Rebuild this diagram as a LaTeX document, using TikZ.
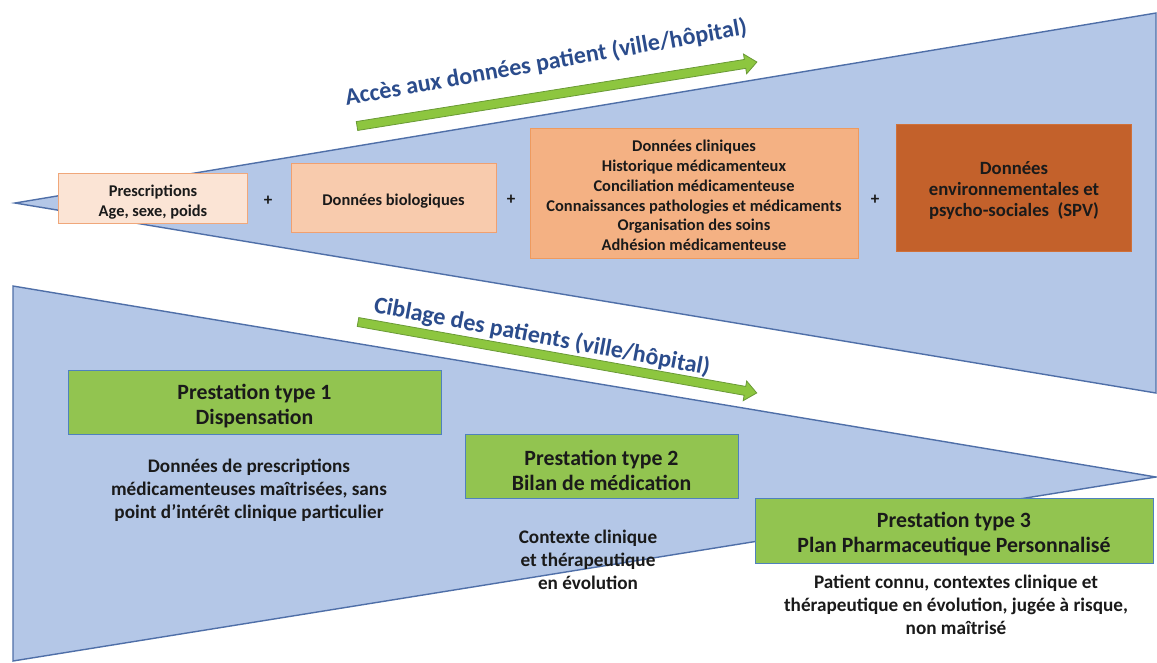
\documentclass[tikz,border=0pt]{standalone}
\usepackage{fontspec}
\setmainfont{Carlito}
\definecolor{triblue}{HTML}{B4C7E7}
\definecolor{triedge}{HTML}{4F6FA8}
\definecolor{arrowgreen}{HTML}{8DC63F}
\definecolor{arrowedge}{HTML}{6A9A36}
\definecolor{lblblue}{HTML}{2B4C8C}
\definecolor{boxgreen}{HTML}{92C450}
\definecolor{boxgreenedge}{HTML}{4F81BD}
\definecolor{peachA}{HTML}{FBE4D5}
\definecolor{peachAedge}{HTML}{F0A77A}
\definecolor{peachB}{HTML}{F8CBAD}
\definecolor{peachBedge}{HTML}{F0A070}
\definecolor{peachC}{HTML}{F4B183}
\definecolor{peachCedge}{HTML}{EE9A5E}
\definecolor{rust}{HTML}{C3612B}
\definecolor{rustedge}{HTML}{D07038}
\definecolor{txt}{HTML}{1A1A1A}
\begin{document}
\begin{tikzpicture}[x=1pt,y=-1pt,
  tri/.style={fill=triblue, draw=triedge, line width=1.4pt, line join=miter},
  garrow/.style={fill=arrowgreen, draw=arrowedge, line width=0.8pt},
  lbl/.style={text=lblblue, font=\bfseries\fontsize{24}{28}\selectfont, inner sep=0pt},
  databox/.style={draw=#1edge, fill=#1, line width=1pt, inner sep=0pt},
  rustbox/.style={draw=rustedge, fill=rust, line width=1pt, inner sep=0pt},
  prestbox/.style={draw=boxgreenedge, fill=boxgreen, line width=1pt, inner sep=0pt},
  datatext/.style={text=txt, align=center, inner sep=0pt, font=\bfseries\fontsize{16.4}{19.8}\selectfont},
  rusttext/.style={text=txt, align=center, inner sep=0pt, font=\bfseries\fontsize{18.7}{20.7}\selectfont},
  presttext/.style={text=txt, align=center, inner sep=0pt, font=\bfseries\fontsize{21.8}{25}\selectfont},
  plus/.style={text=txt, font=\bfseries\fontsize{17}{20}\selectfont, inner sep=0pt},
  desc/.style={text=txt, align=center, inner sep=0pt, font=\bfseries\fontsize{19.2}{23}\selectfont}
]
\useasboundingbox[fill=white] (0,0) rectangle (1157,662);

% triangles
\path[tri] (15,203) -- (1156,13) -- (1156,393) -- cycle;
\path[tri] (13,286) -- (1156,477) -- (13,661) -- cycle;

% green arrows
\begin{scope}[shift={(357,126)}, rotate=9.09]
  \path[garrow] (0,-4.5) -- (393,-4.5) -- (393,-10) -- (405,0) -- (393,10) -- (393,4.5) -- (0,4.5) -- cycle;
\end{scope}
\begin{scope}[shift={(358,322)}, rotate=-10.09]
  \path[garrow] (0,-4.5) -- (393,-4.5) -- (393,-10) -- (405,0) -- (393,10) -- (393,4.5) -- (0,4.5) -- cycle;
\end{scope}

% arrow labels
\node[lbl, rotate=10] (acces) at (546,63) {Accès aux données patient (ville/hôpital)};
\node[lbl, rotate=-10.6] (ciblage) at (542,337) {Ciblage des patients (ville/hôpital)};

% data boxes
\node[databox=peachA, minimum width=189pt, minimum height=50pt] (presc) at (152.5,198) {};
\node[datatext] (presct) at (153,202) {Prescriptions\\Age, sexe, poids};
\node[databox=peachB, minimum width=205pt, minimum height=69pt] (bio) at (393.5,197.5) {};
\node[datatext] (biot) at (393.5,201) {Données biologiques};
\node[databox=peachC, minimum width=328pt, minimum height=130pt] (clin) at (694,193) {};
\node[datatext] (clint) at (694,195.5)
  {Données cliniques\\Historique médicamenteux\\Conciliation médicamenteuse\\Connaissances pathologies et médicaments\\Organisation des soins\\Adhésion médicamenteuse};
\node[rustbox, minimum width=235pt, minimum height=127pt] (env) at (1014,187.5) {};
\node[rusttext] (envt) at (1014,190.5)
  {Données\\environnementales et\\psycho-sociales~~(SPV)};

\node[plus] (p1) at (268,201) {+};
\node[plus] (p2) at (511,200) {+};
\node[plus] (p3) at (875,200) {+};

% prestation boxes
\node[prestbox, minimum width=373pt, minimum height=64pt] (t1) at (254.5,402) {};
\node[presttext] (t1t) at (254.5,406) {Prestation type 1\\Dispensation};
\node[prestbox, minimum width=273pt, minimum height=64pt] (t2) at (601.5,466) {};
\node[presttext] (t2t) at (601.5,470) {Prestation type 2\\Bilan de médication};
\node[prestbox, minimum width=398pt, minimum height=65pt] (t3) at (954,530.5) {};
\node[presttext] (t3t) at (954,534.5) {Prestation type 3\\Plan Pharmaceutique Personnalisé};

% descriptions
\node[desc] (d1) at (249,490)
  {Données de prescriptions\\médicamenteuses maîtrisées, sans\\point d’intérêt clinique particulier};
\node[desc] (d2) at (588,560)
  {Contexte clinique\\et thérapeutique\\en évolution};
\node[desc] (d3) at (956,605)
  {Patient connu, contextes clinique et\\thérapeutique en évolution, jugée à risque,\\non maîtrisé};
\end{tikzpicture}
\end{document}
